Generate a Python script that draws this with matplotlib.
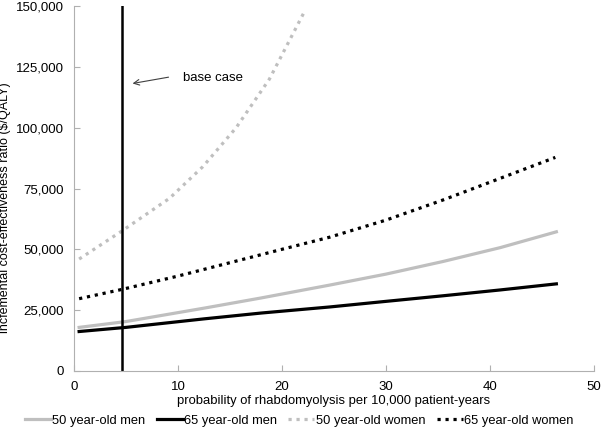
import matplotlib.pyplot as plt
from matplotlib.ticker import FuncFormatter

plt.rcParams['font.family'] = ['Liberation Sans', 'DejaVu Sans']

# 50 year-old men
men50_x = [0.5, 5, 12.5, 18, 24.6, 30, 35.5, 41, 46.4]
men50_y = [17900, 20300, 25800, 30000, 35300, 39800, 45000, 50700, 57200]

# 65 year-old men
men65_x = [0.5, 5, 12.5, 18, 24.6, 30, 35.5, 41, 46.4]
men65_y = [16200, 17900, 21400, 23800, 26300, 28600, 30900, 33300, 35800]

# 50 year-old women
women50_x = [0.5, 4.6, 9.2, 12.4, 15.6, 18.8, 22.2]
women50_y = [46000, 57500, 71000, 84000, 100000, 120000, 148000]

# 65 year-old women
women65_x = [0.5, 4.6, 10, 15, 20, 24.6, 30, 35.5, 41, 46.3]
women65_y = [29700, 33500, 39000, 44500, 50000, 55000, 62000, 70300, 79200, 87800]

base_case = 4.6

fig = plt.figure(figsize=(6.01, 4.4), dpi=100)
ax = fig.add_axes([0.123, 0.157, 0.865, 0.829])

gray = '#bfbfbf'
ax.plot(men50_x, men50_y, color=gray, lw=2.3, label='50 year-old men')
ax.plot(men65_x, men65_y, color='black', lw=2.3, label='65 year-old men')
ax.plot(women50_x, women50_y, color=gray, lw=2.3, linestyle=(0, (1, 1.5)),
        label='50 year-old women')
ax.plot(women65_x, women65_y, color='black', lw=2.3, linestyle=(0, (1, 1.5)),
        label='65 year-old women')

ax.plot([base_case, base_case], [0, 150000], color='black', lw=1.8)
ax.annotate('', xy=(5.64, 118200), xytext=(9.1, 120800),
            arrowprops=dict(arrowstyle='->', color='#404040', lw=0.8,
                            shrinkA=0, shrinkB=0))
ax.text(10.5, 120500, 'base case', fontsize=9.5, va='center')

ax.set_xlim(0, 50)
ax.set_ylim(0, 150000)
ax.set_xticks(range(0, 51, 10))
ax.set_yticks(range(0, 150001, 25000))
ax.yaxis.set_major_formatter(FuncFormatter(lambda v, p: f'{int(v):,}'))

for s in ['top', 'right']:
    ax.spines[s].set_visible(False)
for s in ['left', 'bottom']:
    ax.spines[s].set_color('#b0b0b0')
ax.tick_params(colors='#b0b0b0', labelcolor='black', labelsize=9.5,
               direction='in', length=4, pad=7)

ax.set_xlabel('probability of rhabdomyolysis per 10,000 patient-years',
              fontsize=9.4, labelpad=2)
ax.set_ylabel('incfemental cost-effectiveness ratio ($/QALY)', fontsize=9)
ax.yaxis.set_label_coords(-0.121, 0.447)

ax.legend(loc='center', bbox_to_anchor=(0.433, -0.137), ncol=4, frameon=False,
          fontsize=9.3, handlelength=2.0, handletextpad=0.1, columnspacing=0.9,
          borderpad=0, borderaxespad=0)

fig.savefig('out.png', dpi=100)
